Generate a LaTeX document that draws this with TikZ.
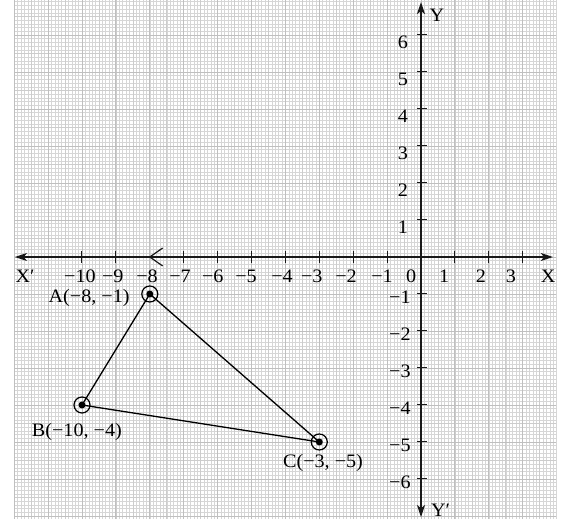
\documentclass[tikz,border=0pt]{standalone}
\usepackage{fontspec}
\setmainfont{Liberation Serif}[FakeStretch=1.06]
\usetikzlibrary{arrows.meta}
\begin{document}
\begin{tikzpicture}[x=33.9pt,y=37pt,
  minorgrid/.style={draw=gray!32,line width=0.45pt},
  medgrid/.style={draw=gray!40,line width=0.6pt},
  majorgrid/.style={draw=gray!50,line width=0.8pt},
  axis/.style={line width=1.2pt,draw=black!90},
  tickmark/.style={line width=1pt,draw=black!90},
  lab/.style={font=\fontsize{19}{22}\selectfont,inner sep=0pt,text=black},
  side/.style={line width=1.3pt,draw=black},
  ptring/.style={circle,draw=black,line width=1.2pt,minimum size=16pt,inner sep=0pt,
    path picture={\fill[black] (path picture bounding box.center) circle (3.5pt);}},
  tip/.style={{Stealth[length=12pt,width=8pt,inset=3pt]}-{Stealth[length=12pt,width=8pt,inset=3pt]}}
]
\useasboundingbox (-12.419,-7.135) rectangle (4.366,6.946);
\fill[white] (-12.419,-7.135) rectangle (4.366,6.946);
% graph paper
\begin{scope}
  \clip (-12,-7.08) rectangle (3.99,6.946);
  \draw[minorgrid] (-12,-7.2) grid[step=0.1] (4,7);
  \draw[medgrid] (-12,-7.5) grid[step=0.5] (4,7);
  \draw[majorgrid] (-12,-8) grid[step=1] (4,7);
\end{scope}
% axes
\coordinate (xl) at (-11.98,0);
\coordinate (xr) at (3.89,0);
\coordinate (yt) at (0,6.89);
\coordinate (yb) at (0,-7.03);
\draw[axis,tip] (xl) -- (xr);
\draw[axis,tip] (yb) -- (yt);
% ticks
\foreach \i in {-10,-9,-7,-6,-5,-4,-3,-2,-1,1,2,3}
  \draw[tickmark] (\i,-0.16) -- (\i,0.16);
\foreach \j in {-6,-5,-4,-3,-2,-1,1,2,3,4,5,6}
  \draw[tickmark] (-0.12,\j) -- (0.18,\j);
% chevron mark at -8
\coordinate (cv1) at (-7.62,0.243);
\coordinate (cv0) at (-8,0);
\coordinate (cv2) at (-7.62,-0.243);
\draw[axis] (cv1) -- (cv0) -- (cv2);
% x labels
\foreach \t/\p [count=\k] in {X′/-11.68,−10/-10.06,−9/-9.09,−8/-8.08,−7/-7.11,−6/-6.14,−5/-5.16,−4/-4.10,−3/-3.22,−2/-2.21,−1/-1.15,0/-0.29,1/0.68,2/1.77,3/2.65,X/3.75}
  \node[lab] (xlab\k) at (\p,-0.514) {\t};
% y labels
\foreach \t/\q [count=\k] in {6/6,5/5,4/4,3/3,2/2,1/1}
  \node[lab] (ylabp\k) at (-0.53,\q-0.2) {\t};
\foreach \t/\q [count=\k] in {−1/-1,−2/-2,−3/-3,−4/-4,−5/-5,−6/-6}
  \node[lab,anchor=east] (ylabn\k) at (-0.3,\q-0.1) {\t};
\node[lab] (ylabY) at (0.47,6.54) {Y};
\node[lab] (ylabYp) at (0.58,-6.84) {Y′};
% triangle
\node[ptring] (A) at (-8,-1) {};
\node[ptring] (B) at (-10,-4) {};
\node[ptring] (C) at (-3,-5) {};
\draw[side] (A.center) -- (B.center) -- (C.center) -- (A.center);
\node[lab] (labA) at (-9.79,-1.11) {A(−8, −1)};
\node[lab] (labB) at (-10.15,-4.73) {B(−10, −4)};
\node[lab] (labC) at (-2.89,-5.57) {C(−3, −5)};
\end{tikzpicture}
\end{document}
